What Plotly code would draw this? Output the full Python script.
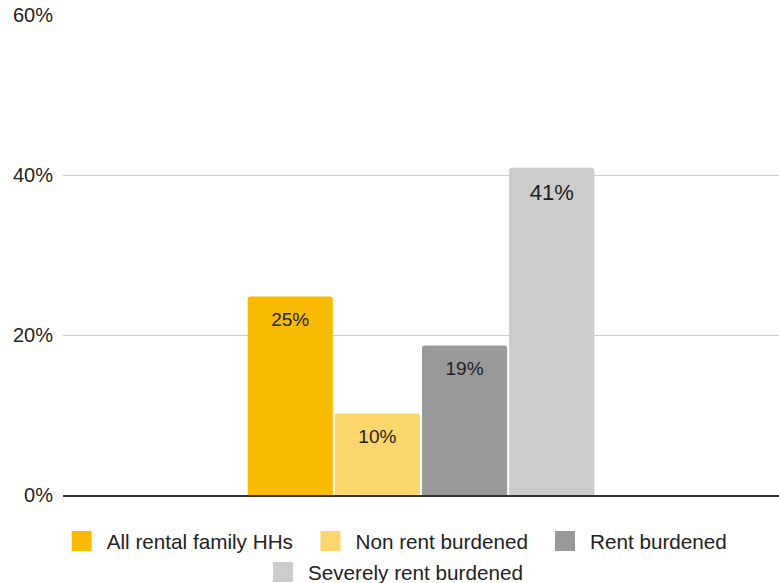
import plotly.graph_objects as go

categories = [""]
series_names = ["All rental family HHs", "Non rent burdened", "Rent burdened", "Severely rent burdened"]
series_values = [24.8, 10.2, 18.7, 40.9]
colors = ["#F9BB00", "#FBD66B", "#999999", "#CCCCCC"]
label_sizes = [19, 19, 19, 22]
label_pads = [2, 2, 2, 1]
y_ticks = [0, 20, 40, 60]
y_ticktext = [f"{v}%" for v in y_ticks]

legend_ids = ["legend", "legend2", "legend3", "legend4"]
legend_x = [-0.0088, 0.3387, 0.6662, 0.2723]
legend_y = [-0.0958, -0.0958, -0.0958, -0.1604]

fig = go.Figure()
for name, val, col, ls, lp in zip(series_names, series_values, colors, label_sizes, label_pads):
    fig.add_trace(go.Bar(
        x=categories, y=[val], name=name, showlegend=False,
        marker=dict(color=col, line=dict(width=0), cornerradius=3),
        text=[f"<span style='font-size:{lp}px'>&nbsp;</span><br>{round(val)}%"],
        textposition="inside", insidetextanchor="end",
        textfont=dict(family="Arial, Liberation Sans", size=ls, color="#222222"),
        textangle=0, hoverinfo="skip",
    ))

# legend entries (square swatches)
for name, col, lid in zip(series_names, colors, legend_ids):
    fig.add_trace(go.Scatter(
        x=[None], y=[None], name=name, mode="markers", legend=lid,
        marker=dict(symbol="square", size=16, color=col, line=dict(color=col, width=4)),
        showlegend=True, hoverinfo="skip",
    ))

legend_common = dict(orientation="h", xanchor="left", yanchor="middle", itemwidth=40,
                     font=dict(family="Arial, Liberation Sans", size=20.7, color="#222222"),
                     itemsizing="trace", bgcolor="rgba(0,0,0,0)", borderwidth=0)
layout_legends = {}
for lid, lx, ly in zip(legend_ids, legend_x, legend_y):
    layout_legends[lid] = dict(x=lx, y=ly, **legend_common)

fig.update_layout(
    width=779, height=583,
    margin=dict(l=63, r=0, t=15, b=88, autoexpand=False),
    paper_bgcolor="white", plot_bgcolor="white",
    barmode="group", bargap=0.513, bargroupgap=0.023,
    font=dict(family="Arial, Liberation Sans", size=20, color="#222222"),
    showlegend=True,
    uniformtext=dict(mode=False),
    **layout_legends,
)
fig.update_yaxes(range=[0, 60], tickvals=y_ticks, ticktext=y_ticktext,
                 showgrid=True, gridcolor="#CCCCCC", gridwidth=1,
                 zeroline=False, showline=False, ticks="", ticklabelstandoff=9,
                 tickfont=dict(family="Arial, Liberation Sans", size=20, color="#222222"))
fig.update_xaxes(showticklabels=False, showgrid=False, zeroline=False,
                 showline=True, linecolor="#333333", linewidth=2, ticks="")

fig.write_html("out.html", config={"displayModeBar": False},
               post_script="document.body.style.margin='0';")
